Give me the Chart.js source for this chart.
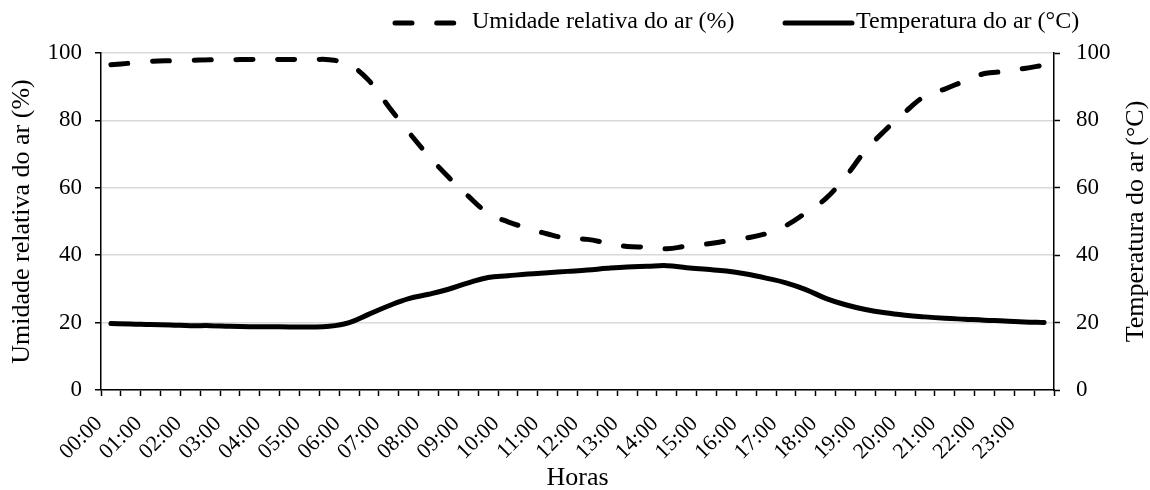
<!DOCTYPE html>
<html>
<head>
<meta charset="utf-8">
<title>Umidade e temperatura do ar</title>
<script src="https://cdn.jsdelivr.net/npm/chart.js@4.4.1/dist/chart.umd.min.js"></script>
<style>
  html, body { margin: 0; padding: 0; background: #fff; }
  #wrap { width: 1150px; height: 490px; }
</style>
</head>
<body>
<div id="wrap"><canvas id="myChart" width="1150" height="490"></canvas></div>
<script>
// dados (medias a cada 30 min)
const categories = [
  "00:00", "00:30", "01:00", "01:30", "02:00", "02:30", "03:00", "03:30",
  "04:00", "04:30", "05:00", "05:30", "06:00", "06:30", "07:00", "07:30",
  "08:00", "08:30", "09:00", "09:30", "10:00", "10:30", "11:00", "11:30",
  "12:00", "12:30", "13:00", "13:30", "14:00", "14:30", "15:00", "15:30",
  "16:00", "16:30", "17:00", "17:30", "18:00", "18:30", "19:00", "19:30",
  "20:00", "20:30", "21:00", "21:30", "22:00", "22:30", "23:00", "23:30"
];
const tickLabels = [
  "00:00", "01:00", "02:00", "03:00", "04:00", "05:00", "06:00", "07:00",
  "08:00", "09:00", "10:00", "11:00", "12:00", "13:00", "14:00", "15:00",
  "16:00", "17:00", "18:00", "19:00", "20:00", "21:00", "22:00", "23:00"
];
const umidade = [
  96.5, 97.0, 97.5, 97.7, 97.8, 98.0, 98.0, 98.1, 98.1, 98.1, 98.0, 98.0,
  96.5, 91.8, 84.0, 76.5, 69.5, 63.2, 57.5, 52.5, 49.9, 48.0, 46.3, 45.0,
  44.7, 43.6, 42.6, 42.4, 41.9, 42.7, 43.3, 44.2, 45.1, 46.4, 48.8, 52.6,
  56.8, 63.3, 71.0, 77.1, 82.5, 87.2, 89.3, 91.7, 93.9, 94.5, 95.4, 96.4
];
const temperatura = [
  19.7, 19.6, 19.4, 19.3, 19.1, 19.1, 18.9, 18.8, 18.8, 18.7, 18.7, 18.9,
  20.0, 22.5, 25.0, 27.1, 28.4, 29.9, 31.8, 33.4, 33.9, 34.4, 34.8, 35.2,
  35.6, 36.1, 36.5, 36.7, 36.9, 36.3, 35.8, 35.3, 34.4, 33.2, 31.8, 29.8,
  27.2, 25.3, 23.9, 22.9, 22.2, 21.7, 21.3, 21.0, 20.7, 20.5, 20.2, 20.0
];
const yTicks = [0, 20, 40, 60, 80, 100];

const fonte = "'Liberation Serif', 'Times New Roman', serif";

// legenda desenhada a mao (linha longa + texto)
const legendaPlugin = {
  id: "legenda",
  afterDraw: function(chart) {
    var ctx = chart.ctx;
    var itens = [
      { x1: 395, x2: 456, tx: 472 },
      { x1: 785, x2: 852, tx: 856 }
    ];
    ctx.save();
    chart.data.datasets.forEach(function(ds, i) {
      var it = itens[i];
      ctx.beginPath();
      ctx.lineWidth = ds.borderWidth;
      ctx.lineCap = "round";
      ctx.strokeStyle = ds.borderColor;
      ctx.setLineDash(ds.borderDash || []);
      ctx.moveTo(it.x1, 23);
      ctx.lineTo(it.x2, 23);
      ctx.stroke();
      ctx.setLineDash([]);
      ctx.fillStyle = "#000";
      ctx.font = "24px " + fonte;
      ctx.textBaseline = "middle";
      ctx.textAlign = "left";
      ctx.fillText(ds.label, it.tx, 22);
    });
    ctx.restore();
  }
};

// titulo do eixo secundario (lido de baixo para cima)
const tituloDireita = {
  id: "tituloDireita",
  afterDraw: function(chart) {
    var ctx = chart.ctx;
    var area = chart.chartArea;
    ctx.save();
    ctx.translate(1136, (area.top + area.bottom) / 2);
    ctx.rotate(-Math.PI / 2);
    ctx.fillStyle = "#000";
    ctx.font = "26px " + fonte;
    ctx.textAlign = "center";
    ctx.textBaseline = "middle";
    ctx.fillText("Temperatura do ar (°C)", 0, 0);
    ctx.restore();
  }
};

const ctx = document.getElementById("myChart").getContext("2d");
const myChart = new Chart(ctx, {
  type: "line",
  data: {
    labels: categories,
    datasets: [
      {
        label: "Umidade relativa do ar (%)",
        data: umidade,
        yAxisID: "y",
        borderColor: "#000",
        backgroundColor: "#000",
        borderWidth: 5,
        borderDash: [17, 24.7],
        borderCapStyle: "round",
        pointRadius: 0,
        tension: 0.4,
        fill: false
      },
      {
        label: "Temperatura do ar (°C)",
        data: temperatura,
        yAxisID: "y2",
        borderColor: "#000",
        backgroundColor: "#000",
        borderWidth: 5,
        borderCapStyle: "round",
        pointRadius: 0,
        tension: 0.4,
        fill: false
      }
    ]
  },
  plugins: [legendaPlugin, tituloDireita],
  options: {
    responsive: false,
    animation: false,
    layout: { padding: { top: 53 } },
    plugins: {
      legend: { display: false },
      tooltip: { enabled: false }
    },
    scales: {
      x: {
        type: "category",
        offset: true,
        grid: {
          offset: true,
          drawOnChartArea: false,
          drawTicks: true,
          tickLength: 6,
          tickColor: "#000",
          tickWidth: 1.5
        },
        border: { display: true, color: "#000", width: 1.5 },
        ticks: {
          autoSkip: false,
          minRotation: 45,
          maxRotation: 45,
          padding: 15,
          labelOffset: -12,
          color: "#000",
          font: { family: fonte, size: 22 },
          callback: function(v, i) {
            var c = categories[i];
            return tickLabels.indexOf(c) > -1 ? c : "";
          }
        },
        title: {
          display: true,
          text: "Horas",
          color: "#000",
          font: { family: fonte, size: 26 },
          padding: { top: 0, bottom: -4 }
        },
        afterFit: function(scale) { scale.height = 100; }
      },
      y: {
        position: "left",
        min: 0,
        max: 100,
        afterBuildTicks: function(scale) {
          scale.ticks = yTicks.map(function(v) { return { value: v }; });
        },
        grid: {
          color: "#d9d9d9",
          lineWidth: 1.5,
          tickLength: 6,
          tickColor: "#000",
          tickWidth: 1.5
        },
        border: { display: true, color: "#000", width: 1.5 },
        ticks: {
          padding: 13,
          color: "#000",
          font: { family: fonte, size: 23 }
        },
        title: {
          display: true,
          text: "Umidade relativa do ar (%)",
          color: "#000",
          font: { family: fonte, size: 26 },
          padding: { top: 7, bottom: 0 }
        },
        afterFit: function(scale) { scale.width = 101; }
      },
      y2: {
        position: "right",
        min: 0,
        max: 100,
        afterBuildTicks: function(scale) {
          scale.ticks = yTicks.map(function(v) { return { value: v }; });
        },
        grid: {
          drawOnChartArea: false,
          tickLength: 6,
          tickColor: "#000",
          tickWidth: 1.5
        },
        border: { display: true, color: "#000", width: 1.5 },
        ticks: {
          padding: 16,
          color: "#000",
          font: { family: fonte, size: 23 }
        },
        afterFit: function(scale) { scale.width = 96; }
      }
    }
  }
});
</script>
</body>
</html>
